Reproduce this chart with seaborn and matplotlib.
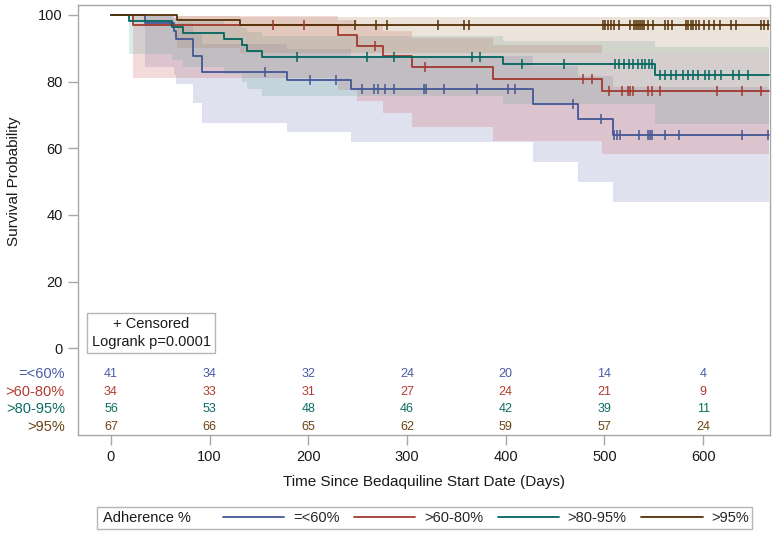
import numpy as np
import pandas as pd
import matplotlib
matplotlib.use("Agg")
import matplotlib.pyplot as plt
from matplotlib.lines import Line2D
from matplotlib.patches import Rectangle
import seaborn as sns

# ---------------- data ----------------
groups = ["=<60%", ">60-80%", ">80-95%", ">95%"]
x_ticks = [0, 100, 200, 300, 400, 500, 600]
y_ticks = [0, 20, 40, 60, 80, 100]
end_day = 667

# number at risk at x_ticks
risk_le60 = [41, 34, 32, 24, 20, 14, 4]
risk_60_80 = [34, 33, 31, 27, 24, 21, 9]
risk_80_95 = [56, 53, 48, 46, 42, 39, 11]
risk_gt95 = [67, 66, 65, 62, 59, 57, 24]

# Kaplan-Meier steps (day, survival %, lower CI, upper CI)
blue_t = [0, 34.5, 64, 66, 83.6, 92, 178, 243, 428, 473, 509]
blue_s = [100, 97.6, 95.1, 92.7, 87.8, 82.9, 80.5, 77.8, 73.4, 68.9, 64.1]
blue_lo = [100, 84.5, 82.0, 79.3, 73.5, 67.7, 64.8, 61.8, 55.8, 49.8, 43.8]
blue_hi = [100, 99.7, 98.8, 97.6, 94.7, 91.3, 89.7, 87.8, 84.7, 81.6, 78.4]

red_t = [0, 22.6, 230, 249, 276, 305, 387, 497]
red_s = [100, 97.1, 93.9, 90.8, 87.6, 84.3, 80.8, 77.2]
red_lo = [100, 81.0, 77.6, 74.2, 70.5, 66.4, 62.3, 58.4]
red_hi = [100, 99.6, 98.4, 96.9, 95.3, 93.2, 90.9, 88.6]

green_t = [0, 18, 61.5, 73, 115, 133, 138, 153, 397, 551]
green_s = [100, 98.2, 96.4, 94.6, 92.8, 91.0, 89.2, 87.4, 85.4, 82.1]
green_lo = [100, 88.3, 86.5, 84.4, 82.2, 80.0, 77.8, 75.7, 73.2, 67.4]
green_hi = [100, 99.7, 99.1, 98.2, 97.3, 96.2, 95.0, 93.8, 92.3, 90.5]

brown_t = [0, 66.7, 131]
brown_s = [100, 98.5, 97.0]
brown_lo = [100, 90.0, 88.7]
brown_hi = [100, 99.8, 99.3]

# censoring times (days)
blue_cens = [156, 202, 228, 254, 266, 271, 278, 287, 317, 319, 337, 371, 402,
             409, 468, 496, 510, 513, 516, 535, 544, 546, 548, 561, 576, 639, 666]
red_cens = [164, 196, 268, 318, 478, 487, 505, 518, 524, 526, 529, 544, 548,
            556, 614, 639, 659]
green_cens = [188, 259, 287, 366, 374, 416, 459, 511, 515, 520, 525, 529, 534,
              538, 541, 545, 548, 556, 561, 567, 572, 580, 585, 590, 595, 602,
              606, 612, 618, 630, 636, 645]
brown_cens = [247, 269, 280, 331, 358, 363, 499, 501, 504, 507, 510, 515, 526,
              530, 532, 534, 536, 538, 540, 544, 549, 561, 564, 568, 583, 585,
              588, 590, 593, 596, 601, 606, 611, 617, 628, 633, 659, 662, 666]

# ---------------- style ----------------
line_colors = ["#445694", "#A23A2E", "#01665E", "#543005"]
fill_colors = ["#6F7EB3", "#D05B5B", "#66A5A0", "#A9865B"]
text_colors = ["#4a5aa8", "#b03c30", "#0b6d64", "#6b4418"]

sns.set_style("white")
plt.rcParams["font.family"] = ["Liberation Sans", "DejaVu Sans"]

W, H = 776, 534
fig = plt.figure(figsize=(W / 100, H / 100), dpi=100)
fig.patch.set_facecolor("white")
L, R, T, B = 78, 770, 5, 435
ax = fig.add_axes([L / W, 1 - B / H, (R - L) / W, (B - T) / H])

xmin, xmax = -33.4, 667.7
ymin, ymax = -26.0, 103.0
ax.set_xlim(xmin, xmax)
ax.set_ylim(ymin, ymax)

series = [
    (blue_t, blue_s, blue_lo, blue_hi, blue_cens),
    (red_t, red_s, red_lo, red_hi, red_cens),
    (green_t, green_s, green_lo, green_hi, green_cens),
    (brown_t, brown_s, brown_lo, brown_hi, brown_cens),
]

# confidence bands
for i, (t, s, lo, hi, c) in enumerate(series):
    tt = list(t) + [end_day]
    ax.fill_between(tt, list(lo) + [lo[-1]], list(hi) + [hi[-1]], step="post",
                    color=fill_colors[i], alpha=0.22, lw=0, zorder=1)

# curves
rows = []
for i, (t, s, lo, hi, c) in enumerate(series):
    for tv, sv in zip(list(t) + [end_day], list(s) + [s[-1]]):
        rows.append({"day": tv, "surv": sv, "group": groups[i]})
df = pd.DataFrame(rows)
sns.lineplot(data=df, x="day", y="surv", hue="group", hue_order=groups,
             palette=line_colors, drawstyle="steps-post", estimator=None,
             legend=False, lw=1.3, ax=ax, zorder=3)

# censor marks
for i, (t, s, lo, hi, c) in enumerate(series):
    ta = np.asarray(t)
    sa = np.asarray(s)
    cy = [sa[np.searchsorted(ta, cv, side="right") - 1] for cv in c]
    ax.plot(c, cy, ls="none", marker="|", ms=6.5, mew=1.1,
            color=line_colors[i], zorder=4)

# axes styling
for sp in ax.spines.values():
    sp.set_color("#a6a6a6")
    sp.set_linewidth(1.0)
ax.set_xticks(x_ticks)
ax.set_yticks(y_ticks)
ax.tick_params(axis="both", direction="out", length=7, width=1,
               color="#a6a6a6", labelsize=10.5, labelcolor="#1a1a1a", pad=4,
               left=True, bottom=True)
ax.set_xlabel("Time Since Bedaquiline Start Date (Days)", fontsize=11,
              color="#1a1a1a")
ax.set_ylabel("Survival Probability", fontsize=11, color="#1a1a1a")
ax.xaxis.set_label_coords(0.5, -0.092)
ax.yaxis.set_label_coords(-0.083, (50 - ymin) / (ymax - ymin))

# at-risk table
risk_rows = [risk_le60, risk_60_80, risk_80_95, risk_gt95]
row_y = [-7.7, -13.0, -18.2, -23.5]
ytrans = ax.get_yaxis_transform()
for i, vals in enumerate(risk_rows):
    for xv, v in zip(x_ticks, vals):
        ax.text(xv, row_y[i], str(v), ha="center", va="center", fontsize=9,
                color=text_colors[i])
    ax.text(-0.019, row_y[i], groups[i], transform=ytrans, ha="right",
            va="center", fontsize=10.5, color=text_colors[i])

# censored / logrank box
ax.text((151 - L) / (R - L), (B - 333) / (B - T), "+ Censored\nLogrank p=0.0001",
        transform=ax.transAxes, ha="center", va="center", fontsize=10.5,
        linespacing=1.35, color="#1a1a1a", multialignment="center",
        bbox=dict(boxstyle="square,pad=0.28", fc="white", ec="#b5b5b5", lw=1))

# legend
fig.add_artist(Rectangle((97 / W, 1 - 529 / H), (752 - 97) / W, 22 / H,
                         transform=fig.transFigure, fill=False,
                         ec="#b5b5b5", lw=1))
fig.text(103 / W, 1 - 518 / H, "Adherence %", ha="left", va="center",
         fontsize=10.5, color="#1a1a1a")
handles = [Line2D([], [], color=line_colors[i], lw=1.3) for i in range(4)]
fig.legend(handles, groups, loc="center", bbox_to_anchor=(486 / W, 1 - 518 / H),
           ncol=4, frameon=False, fontsize=10.5, handlelength=4.2,
           handletextpad=0.6, columnspacing=1.0, borderpad=0.0)

fig.savefig("out.png", dpi=100, facecolor="white")
